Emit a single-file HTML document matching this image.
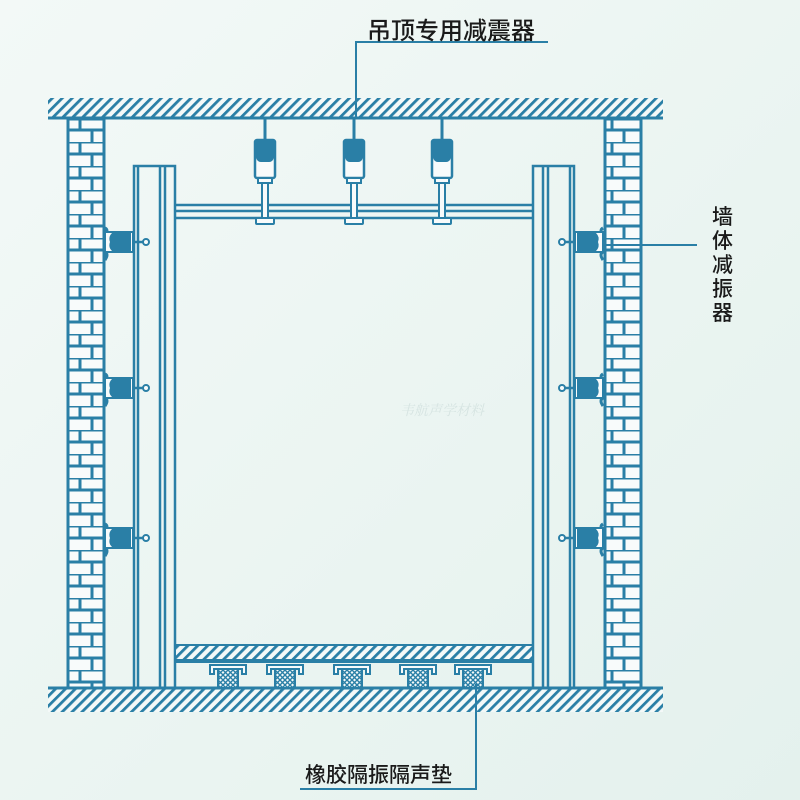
<!DOCTYPE html>
<html><head><meta charset="utf-8"><style>
html,body{margin:0;padding:0;background:#eaf4f1;}
svg{display:block}
</style></head><body>
<svg width="800" height="800" viewBox="0 0 800 800" xmlns="http://www.w3.org/2000/svg">
<defs>
<linearGradient id="bg" x1="0" y1="0" x2="1" y2="1"><stop offset="0" stop-color="#f3f9f7"/><stop offset="1" stop-color="#e4f1ed"/></linearGradient>
<pattern id="hatch" width="7" height="7" patternUnits="userSpaceOnUse" patternTransform="rotate(45)">
<rect width="7" height="7" fill="#f4f9f8"/><rect x="0" y="0" width="2.8" height="7" fill="#2a7fa6"/>
</pattern>
<pattern id="brick" x="67" y="118" width="38" height="24" patternUnits="userSpaceOnUse">
<rect width="38" height="24" fill="#f8fbfb"/>
<g stroke="#2a7fa6" stroke-width="3" fill="none">
<line x1="0" y1="0" x2="38" y2="0"/><line x1="0" y1="12" x2="38" y2="12"/>
<line x1="13" y1="0" x2="13" y2="12"/><line x1="25" y1="12" x2="25" y2="24"/>
</g>
</pattern>
<pattern id="xh" width="5" height="5" patternUnits="userSpaceOnUse">
<rect width="5" height="5" fill="#f4f9f8"/>
<path d="M0 0L5 5M5 0L0 5" stroke="#2a7fa6" stroke-width="1.4"/>
</pattern>
<g id="hanger">
<line x1="0" y1="118" x2="0" y2="142" stroke="#2a7fa6" stroke-width="3"/>
<rect x="-10" y="140" width="20" height="38" rx="2" fill="#f8fbfb" stroke="#2a7fa6" stroke-width="2.5"/>
<path d="M-10 140 H10 V150 Q10 162 4 162 H-4 Q-10 162 -10 150Z" fill="#2a7fa6"/>
<rect x="-7" y="178" width="14" height="5" fill="#f8fbfb" stroke="#2a7fa6" stroke-width="2"/>
<rect x="-3" y="183" width="6" height="36" fill="#f8fbfb" stroke="#2a7fa6" stroke-width="2"/>
<rect x="-9" y="218" width="18" height="6" rx="1" fill="#f8fbfb" stroke="#2a7fa6" stroke-width="2"/>
</g>
<g id="wdL">
<path d="M105 228 q4 2 0 8 M105 252 q4 2 0 8" stroke="#2a7fa6" stroke-width="3" fill="none"/>
<rect x="105" y="232" width="28" height="20" fill="#f8fbfb" stroke="#2a7fa6" stroke-width="2"/>
<path d="M112 233 H131 V251 H112 Q108 247 110 242 Q108 237 112 233Z" fill="#2a7fa6"/>
<line x1="133" y1="242" x2="143" y2="242" stroke="#2a7fa6" stroke-width="2.5"/>
<circle cx="146" cy="242" r="3" fill="#f8fbfb" stroke="#2a7fa6" stroke-width="2"/>
</g>
<g id="pad">
<path d="M-18 665 H18 V674 H14 V669 H-14 V674 H-18Z" fill="#f8fbfb" stroke="#2a7fa6" stroke-width="2"/>
<rect x="-10" y="669" width="20" height="19" fill="url(#xh)" stroke="#2a7fa6" stroke-width="2"/>
</g>
</defs>
<rect width="800" height="800" fill="url(#bg)"/>
<text x="400" y="415" font-family="Liberation Serif,Noto Serif CJK SC,serif" font-size="14" fill="#d6e4e2" font-style="italic">韦航声学材料</text>

<rect x="48" y="98" width="615" height="20" fill="url(#hatch)"/>
<line x1="48" y1="118" x2="663" y2="118" stroke="#2a7fa6" stroke-width="3"/>
<rect x="48" y="688" width="615" height="24" fill="url(#hatch)"/>
<line x1="48" y1="688" x2="663" y2="688" stroke="#2a7fa6" stroke-width="3"/>

<rect x="68" y="119" width="36" height="569" fill="url(#brick)" stroke="#2a7fa6" stroke-width="3"/>
<rect x="605" y="119" width="36" height="569" fill="url(#brick)" stroke="#2a7fa6" stroke-width="3"/>

<g fill="none" stroke="#2a7fa6" stroke-width="2.5">
<rect x="134" y="166" width="41" height="522"/>
<line x1="138" y1="166" x2="138" y2="688"/>
<line x1="160" y1="166" x2="160" y2="688"/>
<line x1="165" y1="166" x2="165" y2="688"/>
<rect x="533" y="166" width="41" height="522"/>
<line x1="570" y1="166" x2="570" y2="688"/>
<line x1="543" y1="166" x2="543" y2="688"/>
<line x1="548" y1="166" x2="548" y2="688"/>
<line x1="175" y1="205" x2="533" y2="205"/>
<line x1="175" y1="211" x2="533" y2="211"/>
<line x1="175" y1="218" x2="533" y2="218"/>
</g>
<use href="#hanger" x="265"/>
<use href="#hanger" x="354"/>
<use href="#hanger" x="442"/>

<use href="#wdL"/>
<use href="#wdL" y="146"/>
<use href="#wdL" y="296"/>
<g transform="translate(708,0) scale(-1,1)">
<use href="#wdL"/>
<use href="#wdL" y="146"/>
<use href="#wdL" y="296"/>
</g>

<rect x="175" y="645" width="358" height="15" fill="url(#hatch)" stroke="#2a7fa6" stroke-width="2"/>
<rect x="175" y="659" width="358" height="4" fill="#2a7fa6"/>
<use href="#pad" x="228"/>
<use href="#pad" x="285"/>
<use href="#pad" x="352"/>
<use href="#pad" x="418"/>
<use href="#pad" x="473"/>

<g stroke="#2a7fa6" stroke-width="2" fill="none">
<path d="M548 42 H356 V118"/>
<path d="M605 245 H697"/>
<path d="M476 684 V789 H300"/>
</g>
<g font-family="Liberation Sans,Noto Sans CJK SC,sans-serif" fill="#1a1a1a" font-weight="500">
<text x="367" y="39" font-size="24">吊顶专用减震器</text>
<text x="305" y="782" font-size="21">橡胶隔振隔声垫</text>
<g font-size="21">
<text x="712" y="224">墙</text><text x="712" y="248">体</text><text x="712" y="272">减</text><text x="712" y="296">振</text><text x="712" y="320">器</text>
</g>
</g>
</svg>
</body></html>
